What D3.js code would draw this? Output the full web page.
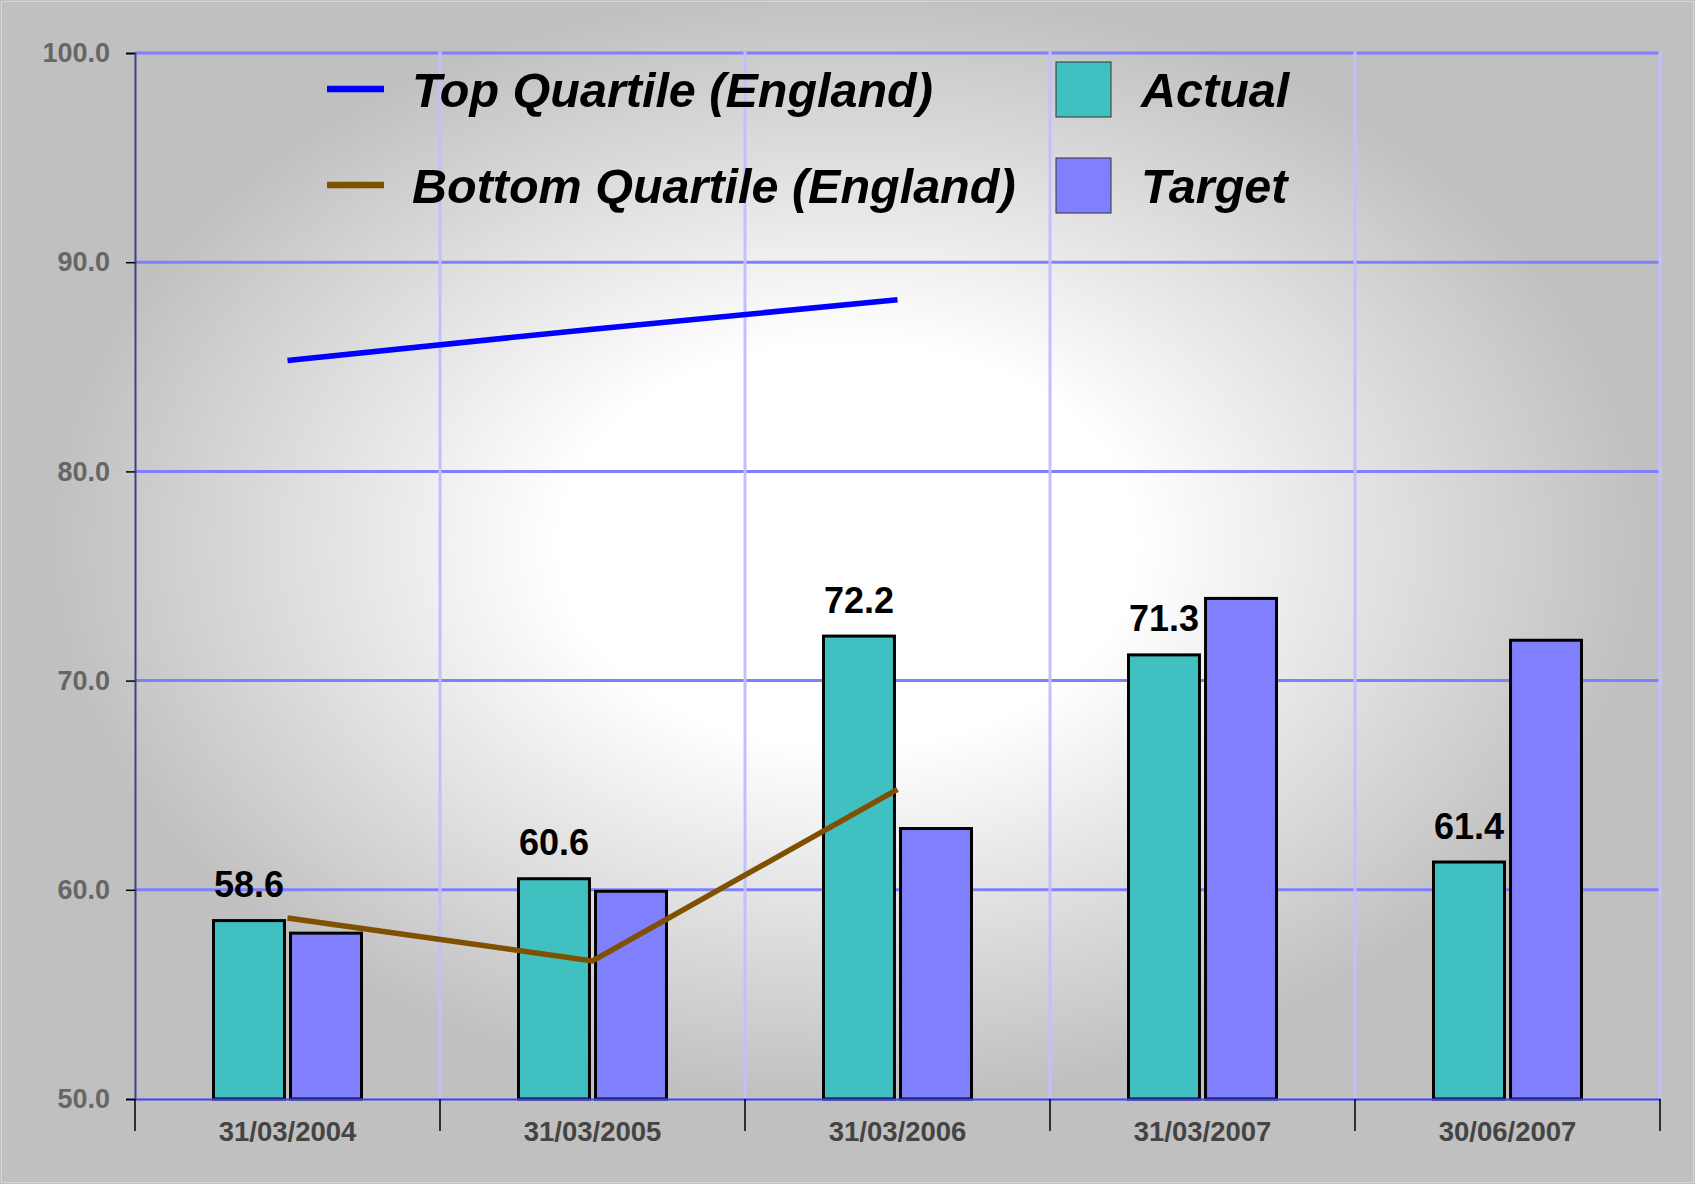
<!DOCTYPE html>
<html lang="en">
<head>
  <meta charset="UTF-8" />
  <title>Actual vs Target</title>
  <script src="https://d3js.org/d3.v7.min.js"></script>
  <style>
    body { margin: 0; padding: 0; background: #c0c0c0; }
    svg { display: block; font-family: Arial, "Liberation Sans", sans-serif; }
  </style>
</head>
<body>
  <div id="chart"></div>
  <script>
    // data
    const categories = ["31/03/2004", "31/03/2005", "31/03/2006", "31/03/2007", "30/06/2007"];
    const actual = [58.6, 60.6, 72.2, 71.3, 61.4];
    const target = [58.0, 60.0, 63.0, 74.0, 72.0];
    const topQuartile = [85.3, 86.8, 88.2];      // first three dates only
    const bottomQuartile = [58.65, 56.6, 64.8];
    const yTicks = [50, 60, 70, 80, 90, 100];
    const seriesNames = ["Actual", "Target"];
    const lineNames = ["Top Quartile (England)", "Bottom Quartile (England)"];

    const width = 1695, height = 1184;
    const margin = { top: 53, right: 35, bottom: 85, left: 135 };

    const svg = d3.select("#chart").append("svg")
      .attr("width", width)
      .attr("height", height);

    // background: radial white glow fading to grey
    const defs = svg.append("defs");
    const grad = defs.append("radialGradient")
      .attr("id", "bg")
      .attr("cx", 0.5).attr("cy", 0.46).attr("r", 0.5)
      .attr("fx", 0.5).attr("fy", 0.46);
    grad.append("stop").attr("offset", "0%").attr("stop-color", "#ffffff");
    grad.append("stop").attr("offset", "34%").attr("stop-color", "#ffffff");
    grad.append("stop").attr("offset", "94%").attr("stop-color", "#c0c0c0");
    grad.append("stop").attr("offset", "100%").attr("stop-color", "#c0c0c0");

    svg.append("rect")
      .attr("width", width).attr("height", height)
      .attr("fill", "url(#bg)");
    svg.append("rect")
      .attr("x", 1.5).attr("y", 1.5)
      .attr("width", width - 3).attr("height", height - 3)
      .attr("fill", "none").attr("stroke", "#d8d8d8").attr("stroke-width", 1);

    const x0 = d3.scaleBand()
      .domain(categories)
      .range([margin.left, width - margin.right])
      .padding(0);

    const half = 75.5;
    const x1 = d3.scaleBand()
      .domain(seriesNames)
      .range([x0.bandwidth() / 2 - half, x0.bandwidth() / 2 + half])
      .paddingInner(0.04);

    const y = d3.scaleLinear()
      .domain([50, 100])
      .range([height - margin.bottom, margin.top]);

    const xc = c => x0(c) + x0.bandwidth() / 2;

    // horizontal grid
    svg.append("g")
      .selectAll("line")
      .data(yTicks.filter(v => v > 50))
      .join("line")
      .attr("x1", margin.left).attr("x2", width - margin.right)
      .attr("y1", d => y(d)).attr("y2", d => y(d))
      .attr("stroke", "#8080ff").attr("stroke-width", 3);

    // vertical grid at category boundaries
    const bounds = categories.slice(1).map(c => x0(c)).concat([x0.range()[1]]);
    svg.append("g")
      .selectAll("line")
      .data(bounds)
      .join("line")
      .attr("x1", d => d).attr("x2", d => d)
      .attr("y1", y(100) - 1.5).attr("y2", y(50))
      .attr("stroke", "#c0c0ff").attr("stroke-width", 3);

    // bars
    const rows = categories.map((c, i) => ({ cat: c, Actual: actual[i], Target: target[i] }));
    const colors = { Actual: "#40c0c0", Target: "#8080ff" };

    const groups = svg.append("g")
      .selectAll("g")
      .data(rows)
      .join("g")
      .attr("transform", d => `translate(${x0(d.cat)},0)`);

    groups.selectAll("rect")
      .data(d => seriesNames.map(k => ({ key: k, value: d[k] })))
      .join("rect")
      .attr("x", d => x1(d.key) + 1.5)
      .attr("width", x1.bandwidth() - 3)
      .attr("y", d => y(d.value) + 1.5)
      .attr("height", d => y(50) - y(d.value) - 1.5)
      .attr("fill", d => colors[d.key])
      .attr("stroke", "#000")
      .attr("stroke-width", 3);

    // value labels above actual bars
    groups.append("text")
      .attr("x", x1("Actual") + x1.bandwidth() / 2)
      .attr("y", d => y(d.Actual) - 22)
      .attr("text-anchor", "middle")
      .attr("font-size", 36)
      .attr("font-weight", "bold")
      .attr("fill", "#000")
      .text(d => d.Actual.toFixed(1));

    // quartile lines
    const lineGen = d3.line()
      .x(d => xc(d.cat))
      .y(d => y(d.v));

    svg.append("path")
      .datum(topQuartile.map((v, i) => ({ cat: categories[i], v })))
      .attr("fill", "none")
      .attr("stroke", "#0000ff")
      .attr("stroke-width", 5.5)
      .attr("d", lineGen);

    svg.append("path")
      .datum(bottomQuartile.map((v, i) => ({ cat: categories[i], v })))
      .attr("fill", "none")
      .attr("stroke", "#7f5000")
      .attr("stroke-width", 5.5)
      .attr("d", lineGen);

    // y axis
    const yAxis = d3.axisLeft(y)
      .tickValues(yTicks)
      .tickSize(9)
      .tickPadding(16)
      .tickFormat(d3.format(".1f"));

    const ya = svg.append("g")
      .attr("transform", `translate(${margin.left},0)`)
      .call(yAxis);
    ya.select(".domain").attr("stroke", "#404080").attr("stroke-width", 2);
    ya.selectAll(".tick line").attr("stroke", "#000").attr("stroke-width", 1.5);
    ya.selectAll(".tick text")
      .attr("fill", "#666666")
      .attr("font-size", 27)
      .attr("font-weight", "bold")
      .attr("font-family", "Arial, 'Liberation Sans', sans-serif");

    // x axis: labels at centers, ticks at boundaries
    const xAxis = d3.axisBottom(x0).tickSize(0).tickPadding(0);
    const xa = svg.append("g")
      .attr("transform", `translate(0,${y(50)})`)
      .call(xAxis);
    xa.select(".domain").attr("stroke", "#4040ff").attr("stroke-width", 2);
    xa.selectAll(".tick text")
      .attr("y", 42)
      .attr("dy", 0)
      .attr("fill", "#444444")
      .attr("font-size", 27.5)
      .attr("font-weight", "bold")
      .attr("font-family", "Arial, 'Liberation Sans', sans-serif");

    svg.append("g")
      .selectAll("line")
      .data([x0.range()[0]].concat(bounds))
      .join("line")
      .attr("x1", d => d).attr("x2", d => d)
      .attr("y1", y(50)).attr("y2", y(50) + 32)
      .attr("stroke", "#000").attr("stroke-width", 1.5);

    // legend
    const legend = svg.append("g");
    const lineColors = ["#0000ff", "#7f5000"];
    const rowY = [107, 203];

    lineNames.forEach((name, i) => {
      legend.append("line")
        .attr("x1", 327).attr("x2", 384)
        .attr("y1", rowY[i] - 18).attr("y2", rowY[i] - 18)
        .attr("stroke", lineColors[i]).attr("stroke-width", 6.5);
      legend.append("text")
        .attr("x", 412).attr("y", rowY[i])
        .attr("font-size", 48.5)
        .attr("font-weight", "bold")
        .attr("font-style", "italic")
        .attr("fill", "#000")
        .text(name);
    });

    seriesNames.forEach((name, i) => {
      legend.append("rect")
        .attr("x", 1056).attr("y", rowY[i] - 45)
        .attr("width", 55).attr("height", 55)
        .attr("fill", colors[name])
        .attr("stroke", "#333").attr("stroke-width", 1);
      legend.append("text")
        .attr("x", 1141).attr("y", rowY[i])
        .attr("font-size", 48.5)
        .attr("font-weight", "bold")
        .attr("font-style", "italic")
        .attr("fill", "#000")
        .text(name);
    });
  </script>
</body>
</html>
